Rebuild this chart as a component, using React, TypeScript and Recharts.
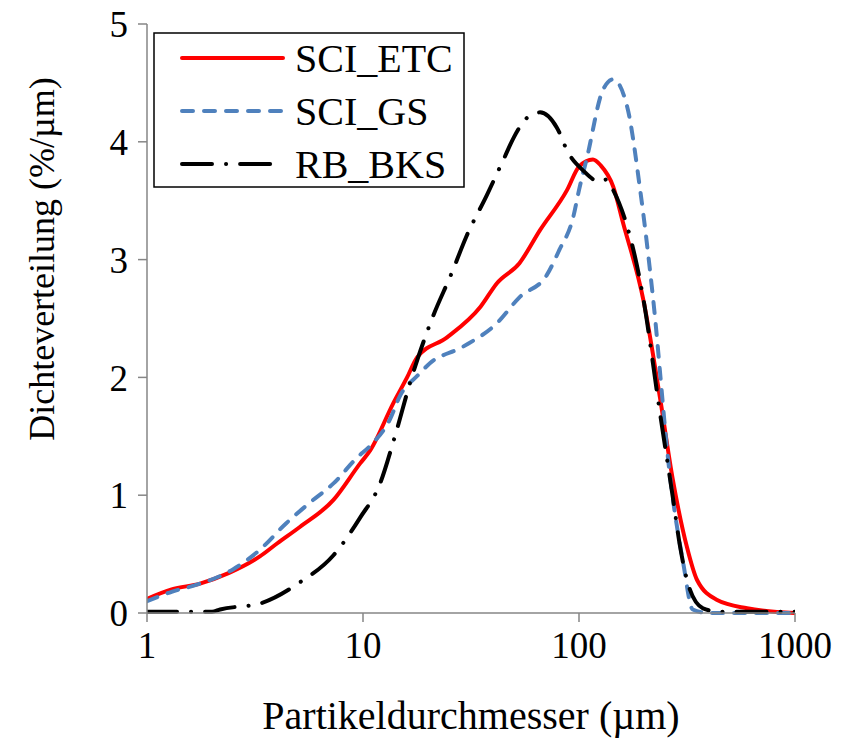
import React from 'react';
import { Line, LineChart, XAxis, YAxis } from 'recharts';

// Partikelgröße (µm) und Dichteverteilung (%/µm)
const etcX = [1, 1.3, 1.76, 2.4, 3.33, 4.0, 5.1, 7.3, 9.7, 10.8, 13.8, 16, 17.8, 24.5, 35, 41.7, 53, 66, 88, 100, 116, 126, 144, 160, 199, 237, 272, 316, 352, 436, 600, 1000];
const etcY = [0.12, 0.2, 0.25, 0.34, 0.48, 0.59, 0.73, 0.96, 1.27, 1.38, 1.78, 2.0, 2.17, 2.34, 2.6, 2.8, 2.97, 3.25, 3.59, 3.79, 3.85, 3.8, 3.62, 3.31, 2.65, 1.83, 1.13, 0.56, 0.28, 0.11, 0.04, 0];

const gsX = [1, 1.3, 1.7, 2.5, 3.3, 4.4, 5.7, 7.3, 9.4, 10.8, 13.3, 14.9, 18, 20.4, 29, 41.7, 53, 71, 81, 94, 100, 109, 129, 144, 167, 192, 220, 265, 304, 336, 400, 1000];
const gsY = [0.1, 0.18, 0.24, 0.37, 0.53, 0.76, 0.94, 1.1, 1.32, 1.42, 1.64, 1.85, 2.02, 2.12, 2.26, 2.46, 2.68, 2.87, 3.08, 3.36, 3.59, 3.87, 4.44, 4.53, 4.3, 3.59, 2.68, 1.13, 0.42, 0.03, 0, 0];

const bksX = [1, 2, 2.18, 3.33, 5.1, 7.3, 9.7, 12, 14, 16.8, 18, 21, 25.8, 30, 37.5, 45, 50, 58, 66, 79, 89, 104, 125, 134, 144, 198, 237, 272, 294, 326, 375, 450, 1000];
const bksY = [0.01, 0.01, 0.03, 0.08, 0.26, 0.49, 0.81, 1.1, 1.49, 2.0, 2.17, 2.51, 2.89, 3.19, 3.55, 3.86, 4.04, 4.21, 4.25, 4.12, 3.91, 3.76, 3.66, 3.68, 3.59, 2.68, 1.7, 0.98, 0.56, 0.2, 0.04, 0.01, 0.01];

const xTicks = [1, 10, 100, 1000];
const yTicks = [0, 1, 2, 3, 4, 5];

const toPoints = (xs: number[], ys: number[]) => xs.map((x, i) => ({ x, y: ys[i] }));

const series = [
  { name: 'SCI_ETC', data: toPoints(etcX, etcY), color: '#FF0000', dash: undefined },
  { name: 'SCI_GS', data: toPoints(gsX, gsY), color: '#4F81BD', dash: '11 11' },
  { name: 'RB_BKS', data: toPoints(bksX, bksY), color: '#000000', dash: '30 14 0.1 14' },
];

const FONT = '"Liberation Serif", "Times New Roman", serif';
const AXIS = '#868686';

const LegendBox = () => (
  <svg width={312} height={156} style={{ display: 'block', position: 'absolute', left: 153, top: 32 }}>
    <rect x={1} y={1} width={310} height={154} fill="#fff" stroke="#000" strokeWidth={1.5} />
    {series.map((s, i) => {
      const y = 26 + i * 53;
      return (
        <g key={s.name}>
          <line
            x1={29}
            x2={130}
            y1={y}
            y2={y}
            stroke={s.color}
            strokeWidth={4}
            strokeDasharray={s.dash}
            strokeLinecap="round"
          />
          <text x={142} y={y} dominantBaseline="central" fontFamily={FONT} fontSize={40} fill="#000">
            {s.name}
          </text>
        </g>
      );
    })}
  </svg>
);

export default function App() {
  return (
    <div style={{ position: 'absolute', left: 0, top: 0, width: 846, height: 739, overflow: 'hidden' }}>
      <LineChart width={846} height={739} margin={{ top: 24, right: 51, bottom: 46, left: 0 }}>
        <XAxis
          dataKey="x"
          type="number"
          scale="log"
          domain={[1, 1000]}
          ticks={xTicks}
          allowDataOverflow
          stroke={AXIS}
          strokeWidth={1.5}
          height={80}
          tickSize={9}
          tickMargin={10}
          tick={{ fill: '#000', fontSize: 37, fontFamily: FONT }}
          label={{
            content: ({ viewBox }: any) => (
              <text
                x={viewBox.x + viewBox.width / 2}
                y={729}
                textAnchor="middle"
                fontFamily={FONT}
                fontSize={40}
                fill="#000"
              >
                Partikeldurchmesser (µm)
              </text>
            ),
          }}
        />
        <YAxis
          type="number"
          domain={[0, 5]}
          ticks={yTicks}
          width={147}
          stroke={AXIS}
          strokeWidth={1.5}
          tickSize={9}
          tickMargin={10}
          tick={{ fill: '#000', fontSize: 37, fontFamily: FONT }}
          label={{
            content: () => (
              <text
                x={42}
                y={259}
                textAnchor="middle"
                dominantBaseline="central"
                transform="rotate(-90, 42, 259)"
                fontFamily={FONT}
                fontSize={36}
                fill="#000"
              >
                Dichteverteilung (%/µm)
              </text>
            ),
          }}
        />
        {series.map((s) => (
          <Line
            key={s.name}
            data={s.data}
            dataKey="y"
            name={s.name}
            type="monotone"
            stroke={s.color}
            strokeWidth={4}
            strokeDasharray={s.dash}
            strokeLinecap="round"
            dot={false}
            activeDot={false}
            isAnimationActive={false}
          />
        ))}
      </LineChart>
      <LegendBox />
    </div>
  );
}
